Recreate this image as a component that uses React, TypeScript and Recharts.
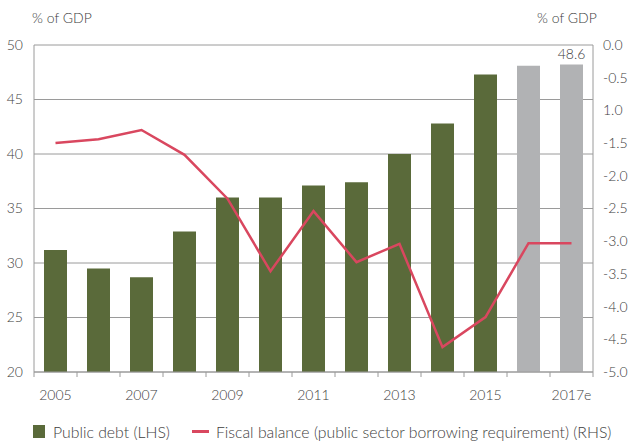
import { ComposedChart, Bar, Line, XAxis, YAxis, CartesianGrid, Cell, LabelList } from 'recharts'

const YEARS = ['2005', '2006', '2007', '2008', '2009', '2010', '2011', '2012', '2013', '2014', '2015', '2016', '2017e']
const PUBLIC_DEBT = [31.2, 29.5, 28.7, 32.9, 36.0, 36.0, 37.1, 37.4, 40.0, 42.8, 47.3, 48.1, 48.2]
const FISCAL_BALANCE = [-1.5, -1.44, -1.3, -1.68, -2.35, -3.46, -2.54, -3.32, -3.04, -4.62, -4.16, -3.03, -3.03]
const DEBT_LABELS = ['', '', '', '', '', '', '', '', '', '', '', '', '48.6']
const IS_ESTIMATE = [false, false, false, false, false, false, false, false, false, false, false, true, true]

const LHS_TICKS = [20, 25, 30, 35, 40, 45, 50]
const RHS_TICKS = [-5, -4.5, -4, -3.5, -3, -2.5, -2, -1.5, -1, -0.5, 0]
const RHS_TICK_LABELS = ['-5.0', '-4.5', '-4.0', '-3.5', '-3.0', '-2.5', '-2.0', '-1.5', '1.0', '-0.5', '0.0']

const GREEN = '#5a6a3a'
const GREY_BAR = '#b1b2b4'
const RED = '#d9475f'
const AXIS = '#9a9a9a'
const TEXT = '#3d3d3d'
const FONT = 'Lato, "Open Sans", sans-serif'

const PLOT_W = 559
const BAND = PLOT_W / YEARS.length

const data = YEARS.map((year, i) => ({
  year,
  debt: PUBLIC_DEBT[i],
  balance: FISCAL_BALANCE[i],
  label: DEBT_LABELS[i],
}))

function YearTick({ x, y, payload, index }: any) {
  const left = x - BAND / 2
  const right = x + BAND / 2
  return (
    <g>
      <line x1={left} x2={left} y1={y} y2={y + 5} stroke={AXIS} />
      {index === YEARS.length - 1 && <line x1={right} x2={right} y1={y} y2={y + 5} stroke={AXIS} />}
      {index % 2 === 0 && (
        <text x={x} y={y + 28} textAnchor="middle" fontSize={14} fill={TEXT} fontFamily={FONT} fontWeight={300}>
          {payload.value}
        </text>
      )}
    </g>
  )
}

export default function App() {
  return (
    <div style={{ position: 'absolute', left: 0, top: 0, width: 630, height: 441, background: '#fff', fontFamily: FONT, fontWeight: 300 }}>
      <div style={{ position: 'absolute', left: 32, top: 9, fontSize: 14, color: TEXT }}>% of GDP</div>
      <div style={{ position: 'absolute', left: 537, top: 9, fontSize: 14, color: TEXT }}>% of GDP</div>

      <ComposedChart width={630} height={441} data={data} margin={{ top: 45, right: 0, bottom: 39, left: 0 }}>
        <CartesianGrid vertical={false} stroke={AXIS} yAxisId="left" />
        <XAxis
          dataKey="year"
          height={30}
          interval={0}
          tickSize={0}
          tickMargin={0}
          tickLine={false}
          axisLine={{ stroke: AXIS }}
          tick={<YearTick />}
        />
        <YAxis
          yAxisId="left"
          width={34}
          domain={[20, 50]}
          ticks={LHS_TICKS}
          interval={0}
          tickLine={false}
          tickSize={0}
          tickMargin={11}
          axisLine={{ stroke: AXIS }}
          tick={{ fontSize: 14, fill: TEXT, fontFamily: FONT, fontWeight: 300 }}
        />
        <YAxis
          yAxisId="right"
          orientation="right"
          width={37}
          domain={[-5, 0]}
          ticks={RHS_TICKS}
          interval={0}
          tickLine={false}
          tickSize={0}
          tickMargin={10}
          axisLine={{ stroke: AXIS }}
          tickFormatter={(v: number) => RHS_TICK_LABELS[RHS_TICKS.indexOf(v)] ?? String(v)}
          tick={{ fontSize: 14, fill: TEXT, fontFamily: FONT, fontWeight: 300 }}
        />
        <Bar yAxisId="left" dataKey="debt" barSize={23} isAnimationActive={false}>
          {data.map((_, i) => (
            <Cell key={i} fill={IS_ESTIMATE[i] ? GREY_BAR : GREEN} />
          ))}
          <LabelList dataKey="label" position="top" offset={6} fontSize={14} fill={TEXT} fontFamily={FONT} fontWeight={300} />
        </Bar>
        <Line
          yAxisId="right"
          dataKey="balance"
          stroke={RED}
          strokeWidth={2.5}
          dot={false}
          activeDot={false}
          isAnimationActive={false}
        />
      </ComposedChart>

      <div style={{ position: 'absolute', left: 33, top: 422, display: 'flex', alignItems: 'center', fontSize: 15.8, color: TEXT, whiteSpace: 'nowrap' }}>
        <span style={{ display: 'inline-block', width: 12, height: 13, background: GREEN, marginRight: 8 }} />
        <span>Public debt (LHS)</span>
        <span style={{ display: 'inline-block', width: 17, height: 3, background: RED, marginLeft: 22, marginRight: 7 }} />
        <span>Fiscal balance (public sector borrowing requirement) (RHS)</span>
      </div>
    </div>
  )
}
